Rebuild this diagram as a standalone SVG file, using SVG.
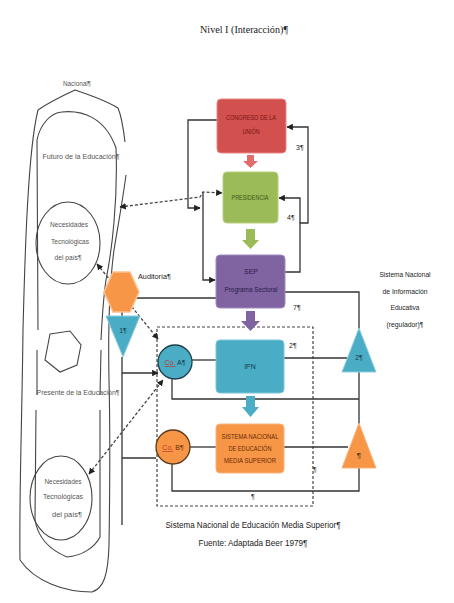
<svg xmlns="http://www.w3.org/2000/svg" width="454" height="603" viewBox="0 0 454 603">
<defs>
<style>
.sk{fill:none;stroke:#444;stroke-width:1.1}
.ln{fill:none;stroke:#333;stroke-width:1.3}
.ds{fill:none;stroke:#444;stroke-width:1.3;stroke-dasharray:3,2}
.t{font-family:"Liberation Sans",Arial,sans-serif;fill:#222}
.g{font-family:"Liberation Sans",Arial,sans-serif;fill:#555}
</style>
<marker id="ah" viewBox="0 0 10 10" refX="9" refY="5" markerWidth="5" markerHeight="5" orient="auto-start-reverse">
<path d="M0,0 L10,5 L0,10 z" fill="#222"/>
</marker>
</defs>
<rect width="454" height="603" fill="#fff"/>

<text x="244" y="33" font-family="Liberation Serif,serif" font-size="11" text-anchor="middle" textLength="88" lengthAdjust="spacingAndGlyphs" fill="#222">Nivel I (Interacción)¶</text>

<g id="figura-izquierda">
<path class="sk" d="M125,142 C123,125 121,115 118,108 C105,100 90,95 75,90 C62,96 48,103 38,110 C28,150 25,250 23,330 C22,420 19,500 20,560 C35,582 65,592 92,592 C104,588 108,575 109,545 C110,480 110,420 109,380 C108,330 110,280 114,250 C118,225 122,205 126,175"/>
<path class="sk" d="M38,330 L37,140 C40,125 50,113 62,112 C82,110 105,117 116,148 C118,200 112,250 106,280 C103,300 102,320 101,340"/>
<path class="sk" d="M50,334 L70,331 L81,345 L77,365 L60,372 L45,360 Z"/>
<path class="sk" d="M37,350 L37,395"/>
<path class="sk" d="M101,350 L100,395"/>
<path class="sk" d="M36,410 L35,520 C38,538 50,550 67,557 C82,556 95,547 100,537 L100,410"/>
<ellipse class="sk" cx="68" cy="243" rx="32" ry="41"/>
<ellipse class="sk" cx="61" cy="498" rx="31" ry="42"/>
<text class="g" x="77" y="86" font-size="7" text-anchor="middle" textLength="28" lengthAdjust="spacingAndGlyphs">Nacional¶</text>
<text class="g" x="81" y="159" font-size="7" text-anchor="middle" textLength="77" lengthAdjust="spacingAndGlyphs">Futuro de la Educación¶</text>
<text class="g" x="78" y="395" font-size="7" text-anchor="middle" textLength="83" lengthAdjust="spacingAndGlyphs">Presente de la Educación¶</text>
<text class="g" x="69" y="227" font-size="7" text-anchor="middle" textLength="38" lengthAdjust="spacingAndGlyphs">Necesidades</text>
<text class="g" x="70" y="244" font-size="7" text-anchor="middle" textLength="38" lengthAdjust="spacingAndGlyphs">Tecnológicas</text>
<text class="g" x="68" y="260" font-size="7" text-anchor="middle" textLength="27" lengthAdjust="spacingAndGlyphs">del país¶</text>
<text class="g" x="63" y="484" font-size="7" text-anchor="middle" textLength="37" lengthAdjust="spacingAndGlyphs">Necesidades</text>
<text class="g" x="63" y="499" font-size="7" text-anchor="middle" textLength="40" lengthAdjust="spacingAndGlyphs">Tecnológicas</text>
<text class="g" x="67" y="517" font-size="7" text-anchor="middle" textLength="30" lengthAdjust="spacingAndGlyphs">del país¶</text>
</g>

<g id="conectores">
<rect x="157" y="327" width="156" height="179" fill="none" stroke="#444" stroke-width="1.2" stroke-dasharray="3,2"/>
<polyline class="ln" points="217,120 188,120 188,208 200,208" marker-end="url(#ah)"/>
<polyline class="ln" points="203,192 203,280 215,280" marker-end="url(#ah)"/>
<polyline class="ln" points="285,272 300,272 300,223 308,223 308,127 287,127" marker-end="url(#ah)"/>
<polyline class="ln" points="300,223 300,198 279,198" marker-end="url(#ah)"/>
<polyline class="ln" points="285,292 359,292 359,329"/>
<polyline class="ln" points="216,298 122,298 122,316"/>
<polyline class="ln" points="122,357 122,525"/>
<polyline class="ln" points="122,373 158,373" marker-end="url(#ah)"/>
<polyline class="ln" points="122,458 156,458"/>
<line class="ln" x1="192" y1="360" x2="216" y2="360"/>
<line class="ln" x1="284" y1="358" x2="348" y2="358"/>
<polyline class="ln" points="359,372 359,424"/>
<polyline class="ln" points="359,399 172,399 172,379"/>
<line class="ln" x1="190" y1="447" x2="216" y2="447"/>
<line class="ln" x1="284" y1="447" x2="348" y2="447"/>
<polyline class="ln" points="359,468 359,491 172,491 172,464"/>
<polyline class="ds" points="120,207 200,197 203,192 222,193" marker-start="url(#ah)" marker-end="url(#ah)"/>
<line class="ds" x1="97" y1="264" x2="158" y2="339" marker-start="url(#ah)" marker-end="url(#ah)"/>
<line class="ds" x1="89" y1="474" x2="163" y2="380" marker-start="url(#ah)" marker-end="url(#ah)"/>
<polygon points="247,155 254,155 254,161 258,161 250.5,168 243,161 247,161" fill="#E26B6B"/>
<polygon points="246,229 255,229 255,240 259,240 250.5,249 242,240 246,240" fill="#9BBB59"/>
<polygon points="246,311 255,311 255,321 260,321 250.5,331 241,321 246,321" fill="#8064A2"/>
<polygon points="246,396 255,396 255,407 259,407 250.5,417 242,407 246,407" fill="#4BACC6"/>
<text class="t" x="296" y="150" font-size="7">3¶</text>
<text class="t" x="287" y="220" font-size="7">4¶</text>
<text class="t" x="293" y="310" font-size="7">7¶</text>
<text class="t" x="289" y="348" font-size="7">2¶</text>
<text class="t" x="313" y="472" font-size="7">¶</text>
<text class="t" x="251" y="499" font-size="7">¶</text>
</g>

<g id="congreso">
<rect x="217" y="99" width="69" height="54" rx="4" fill="#D2504D" stroke="#E88" stroke-width="1"/>
<text x="251" y="120" font-family="Liberation Sans,Arial,sans-serif" font-size="7" fill="#7A1414" text-anchor="middle" textLength="50" lengthAdjust="spacingAndGlyphs">CONGRESO DE LA</text>
<text x="251" y="134" font-family="Liberation Sans,Arial,sans-serif" font-size="7" fill="#7A1414" text-anchor="middle" textLength="17" lengthAdjust="spacingAndGlyphs">UNIÓN</text>
</g>

<g id="presidencia">
<rect x="223" y="172" width="55" height="51" rx="4" fill="#9BBB59" stroke="#B7D07E" stroke-width="1"/>
<text x="250" y="200" font-family="Liberation Sans,Arial,sans-serif" font-size="7" fill="#3E5514" text-anchor="middle" textLength="37" lengthAdjust="spacingAndGlyphs">PRESIDENCIA</text>
</g>

<g id="sep">
<rect x="216" y="255" width="69" height="53" rx="4" fill="#8064A2" stroke="#A08BC0" stroke-width="1"/>
<text x="251" y="274" font-family="Liberation Sans,Arial,sans-serif" font-size="7" fill="#2C1A48" text-anchor="middle">SEP</text>
<text x="251" y="292" font-family="Liberation Sans,Arial,sans-serif" font-size="7" fill="#2C1A48" text-anchor="middle" textLength="53" lengthAdjust="spacingAndGlyphs">Programa Sectoral</text>
</g>

<g id="ipn">
<rect x="216" y="340" width="68" height="53" rx="4" fill="#4BACC6" stroke="#7FC6D8" stroke-width="1"/>
<text x="250" y="369" font-family="Liberation Sans,Arial,sans-serif" font-size="7" fill="#153E4A" text-anchor="middle">IPN</text>
</g>

<g id="sistema-nacional">
<rect x="216" y="424" width="68" height="49" rx="4" fill="#F79646" stroke="#F9B27D" stroke-width="1"/>
<text x="250" y="439" font-family="Liberation Sans,Arial,sans-serif" font-size="6.5" fill="#6A2A0A" text-anchor="middle" textLength="57" lengthAdjust="spacingAndGlyphs">SISTEMA NACIONAL</text>
<text x="250" y="451" font-family="Liberation Sans,Arial,sans-serif" font-size="6.5" fill="#6A2A0A" text-anchor="middle" textLength="43" lengthAdjust="spacingAndGlyphs">DE EDUCACIÓN</text>
<text x="250" y="463" font-family="Liberation Sans,Arial,sans-serif" font-size="6.5" fill="#6A2A0A" text-anchor="middle" textLength="52" lengthAdjust="spacingAndGlyphs">MEDIA SUPERIOR</text>
</g>

<g id="co-a">
<circle cx="175" cy="362" r="17" fill="#4BACC6" stroke="#1F3F4A" stroke-width="1.3"/>
<text x="175" y="365" font-family="Liberation Sans,Arial,sans-serif" font-size="7" text-anchor="middle" fill="#153E4A"><tspan fill="#C0392B" text-decoration="underline">Co.</tspan> A¶</text>
</g>

<g id="co-b">
<circle cx="173" cy="447" r="17" fill="#F79646" stroke="#5A3A1A" stroke-width="1.3"/>
<text x="173" y="450" font-family="Liberation Sans,Arial,sans-serif" font-size="7" text-anchor="middle" fill="#6A2A0A"><tspan fill="#C0392B" text-decoration="underline">Co.</tspan> B¶</text>
</g>

<g id="auditoria">
<polygon points="113,272 130,272 139,292 130,312 113,312 104,292" fill="#F79646" stroke="#FBC08F" stroke-width="1.5"/>
<text class="t" x="138" y="279" font-size="7" textLength="33" lengthAdjust="spacingAndGlyphs">Auditoría¶</text>
</g>

<g id="triangulo-1">
<polygon points="106,316 140,316 123,357" fill="#4BACC6" stroke="#8FCFE0" stroke-width="1"/>
<text x="123" y="333" font-family="Liberation Sans,Arial,sans-serif" font-size="7" text-anchor="middle" fill="#153E4A">1¶</text>
</g>

<g id="triangulo-2">
<polygon points="359,328 376,372 342,372" fill="#4BACC6" stroke="#8FCFE0" stroke-width="1"/>
<text x="359" y="360" font-family="Liberation Sans,Arial,sans-serif" font-size="7" text-anchor="middle" fill="#153E4A">2¶</text>
</g>

<g id="triangulo-3">
<polygon points="359,423 376,468 342,468" fill="#F79646" stroke="#F9B27D" stroke-width="1"/>
<text x="359" y="458" font-family="Liberation Sans,Arial,sans-serif" font-size="8" text-anchor="middle" fill="#4A2A0A">¶</text>
</g>

<g id="sistema-informacion">
<text class="t" x="405" y="277" font-size="7" text-anchor="middle" textLength="51" lengthAdjust="spacingAndGlyphs">Sistema Nacional</text>
<text class="t" x="405" y="294" font-size="7" text-anchor="middle" textLength="45" lengthAdjust="spacingAndGlyphs">de Información</text>
<text class="t" x="405" y="310" font-size="7" text-anchor="middle" textLength="29" lengthAdjust="spacingAndGlyphs">Educativa</text>
<text class="t" x="405" y="327" font-size="7" text-anchor="middle" textLength="37" lengthAdjust="spacingAndGlyphs">(regulador)¶</text>
</g>

<g id="pie">
<text class="t" x="253" y="528" font-size="8.5" text-anchor="middle" textLength="175" lengthAdjust="spacingAndGlyphs">Sistema Nacional de Educación Media Superior¶</text>
<text class="t" x="253" y="546" font-size="8.5" text-anchor="middle" textLength="109" lengthAdjust="spacingAndGlyphs">Fuente: Adaptada Beer 1979¶</text>
</g>
</svg>
